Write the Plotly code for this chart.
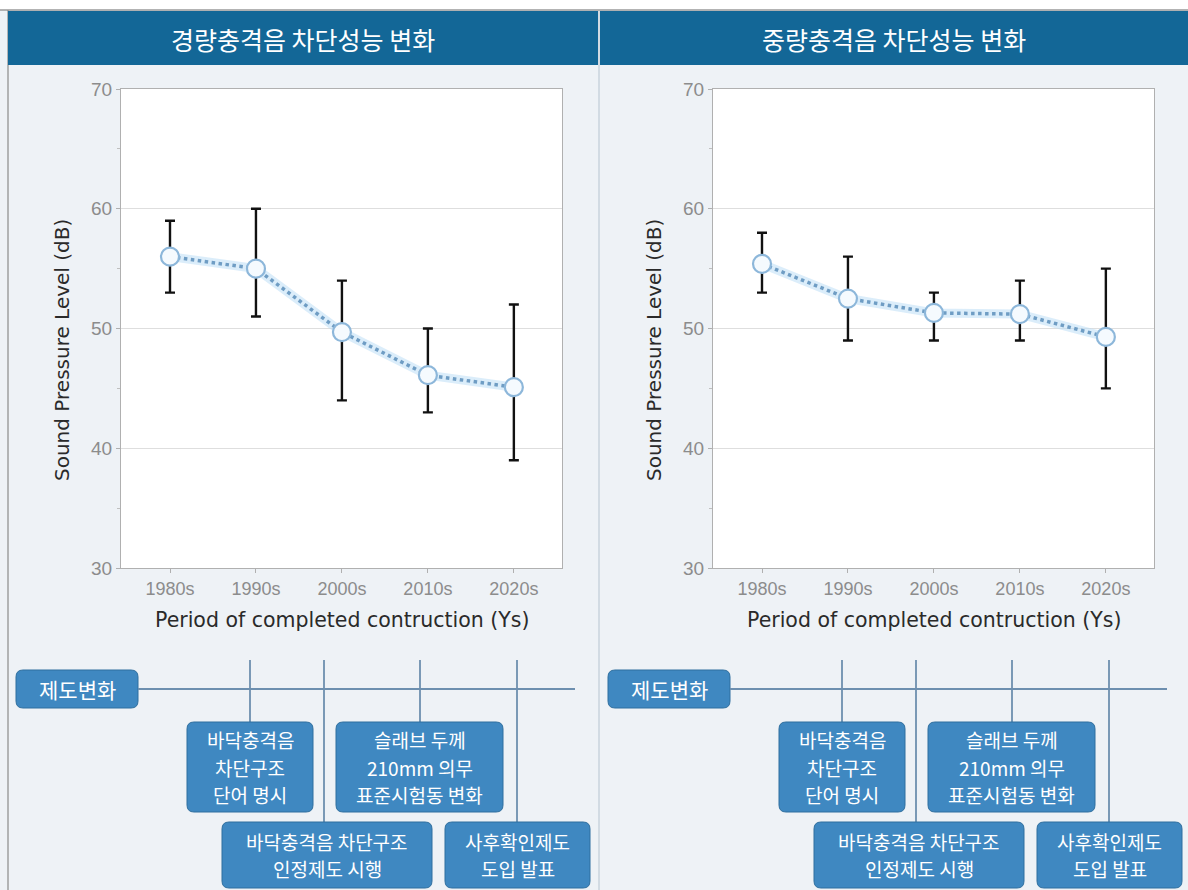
import plotly.graph_objects as go

# ---------------- data ----------------
categories = ["1980s", "1990s", "2000s", "2010s", "2020s"]
light_mean = [56.0, 55.0, 49.7, 46.1, 45.1]
light_upper = [59.0, 60.0, 54.0, 50.0, 52.0]
light_lower = [53.0, 51.0, 44.0, 43.0, 39.0]
heavy_mean = [55.4, 52.5, 51.3, 51.2, 49.3]
heavy_upper = [58.0, 56.0, 53.0, 54.0, 55.0]
heavy_lower = [53.0, 49.0, 49.0, 49.0, 45.0]
y_ticks = [30, 40, 50, 60, 70]
panel_titles = ["경량충격음 차단성능 변화", "중량충격음 차단성능 변화"]
y_title = "Sound Pressure Level (dB)"
x_title = "Period of completed contruction (Ys)"
timeline_label = "제도변화"
box_texts = [
    ["바닥충격음", "차단구조", "단어 명시"],
    ["슬래브 두께", "210mm 의무", "표준시험동 변화"],
    ["바닥충격음 차단구조", "인정제도 시행"],
    ["사후확인제도", "도입 발표"],
]

W, H = 1188, 890
KR = "Noto Sans CJK KR"


def px(x):
    return x / W


def py(y):
    return 1 - y / H


def rrect_path(x0, y0, x1, y1, r):
    X0, X1 = px(x0), px(x1)
    Y0, Y1 = py(y0), py(y1)  # Y0 top (bigger), Y1 bottom
    rx, ry = r / W, r / H
    return (f"M {X0+rx},{Y0} L {X1-rx},{Y0} Q {X1},{Y0} {X1},{Y0-ry} "
            f"L {X1},{Y1+ry} Q {X1},{Y1} {X1-rx},{Y1} L {X0+rx},{Y1} "
            f"Q {X0},{Y1} {X0},{Y1+ry} L {X0},{Y0-ry} Q {X0},{Y0} {X0+rx},{Y0} Z")


fig = go.Figure()

series = [(light_mean, light_upper, light_lower), (heavy_mean, heavy_upper, heavy_lower)]
for i, (m, u, l) in enumerate(series):
    xa = "x" if i == 0 else "x2"
    ya = "y" if i == 0 else "y2"
    # glow
    fig.add_trace(go.Scatter(x=categories, y=m, xaxis=xa, yaxis=ya, mode="lines",
                             line=dict(color="rgba(190,222,245,0.55)", width=9),
                             hoverinfo="skip", showlegend=False))
    fig.add_trace(go.Scatter(
        x=categories, y=m, xaxis=xa, yaxis=ya, mode="lines+markers",
        line=dict(color="#6F9DC4", width=3.5, dash="dot"),
        marker=dict(size=18, color="#F5FAFE", line=dict(color="#8DB7DA", width=2.2)),
        error_y=dict(type="data", symmetric=False,
                     array=[a - b for a, b in zip(u, m)],
                     arrayminus=[b - c for b, c in zip(m, l)],
                     color="#111111", thickness=2.4, width=5),
        showlegend=False))

shapes = []
annotations = []

# top white strip + frame lines
shapes.append(dict(type="rect", xref="paper", yref="paper", x0=0, x1=1, y0=py(10), y1=1,
                   fillcolor="white", line=dict(width=0), layer="below"))
shapes.append(dict(type="line", xref="paper", yref="paper", x0=0, x1=1, y0=py(10), y1=py(10),
                   line=dict(color="#9a9a9a", width=1.5)))
shapes.append(dict(type="line", xref="paper", yref="paper", x0=px(8), x1=px(8), y0=0, y1=py(10),
                   line=dict(color="#8a8a8a", width=1.2)))

# headers
headers = [(8, 598), (600, 1188)]
for (hx0, hx1), t in zip(headers, panel_titles):
    shapes.append(dict(type="rect", xref="paper", yref="paper", x0=px(hx0), x1=px(hx1),
                       y0=py(65), y1=py(11), fillcolor="#136797", line=dict(width=0)))
    annotations.append(dict(xref="paper", yref="paper", x=px((hx0 + hx1) / 2), y=py(39),
                            text=t, showarrow=False, xanchor="center", yanchor="middle",
                            font=dict(family=KR, size=25, color="white")))
shapes.append(dict(type="line", xref="paper", yref="paper", x0=px(599), x1=px(599), y0=0, y1=py(11),
                   line=dict(color="#c8d3dc", width=1.5)))

# axes titles + timeline
LINE_GAP = 27.6
for i in range(2):
    off = 592 * i
    annotations.append(dict(xref="paper", yref="paper", x=px(62 + off), y=py(350),
                            text=y_title, textangle=-90, showarrow=False,
                            xanchor="center", yanchor="middle",
                            font=dict(family="DejaVu Sans", size=20, color="#2a2a2a")))
    annotations.append(dict(xref="paper", yref="paper", x=px(342 + off), y=py(620),
                            text=x_title, showarrow=False, xanchor="center", yanchor="middle",
                            font=dict(family="DejaVu Sans", size=20.5, color="#2a2a2a")))

    box_col = "#3F88C1"
    shapes.append(dict(type="path", xref="paper", yref="paper",
                       path=rrect_path(16 + off, 670, 138 + off, 708, 7),
                       fillcolor=box_col, line=dict(color="#2f6f9f", width=1)))
    annotations.append(dict(xref="paper", yref="paper", x=px(77 + off), y=py(689),
                            text=timeline_label, showarrow=False,
                            xanchor="center", yanchor="middle",
                            font=dict(family=KR, size=21, color="white")))
    shapes.append(dict(type="line", xref="paper", yref="paper", x0=px(138 + off), x1=px(575 + off),
                       y0=py(689), y1=py(689), line=dict(color="#6d8faf", width=2)))
    for vx, vy1 in [(250, 722), (324, 822), (420, 722), (517, 822)]:
        shapes.append(dict(type="line", xref="paper", yref="paper", x0=px(vx + off), x1=px(vx + off),
                           y0=py(660), y1=py(vy1), line=dict(color="#6d8faf", width=1.8)))
    boxes = [(187, 722, 313, 812), (336, 722, 503, 812), (222, 822, 432, 888), (445, 822, 590, 888)]
    for (bx0, by0, bx1, by1), lines in zip(boxes, box_texts):
        bx1c = min(bx1 + off, 1187)
        shapes.append(dict(type="path", xref="paper", yref="paper",
                           path=rrect_path(bx0 + off, by0, bx1c, by1, 7),
                           fillcolor=box_col, line=dict(color="#2f6f9f", width=1)))
        cy = (by0 + by1) / 2
        n = len(lines)
        for k, ln in enumerate(lines):
            ly = cy + (k - (n - 1) / 2) * LINE_GAP
            annotations.append(dict(xref="paper", yref="paper", x=px((bx0 + off + bx1c) / 2),
                                    y=py(ly), text=ln, showarrow=False,
                                    xanchor="center", yanchor="middle", borderpad=0,
                                    font=dict(family=KR, size=19, color="white")))

xaxis_common = dict(type="category", range=[-0.57, 4.56], showgrid=False, zeroline=False,
                    showline=True, linecolor="#b0b0b0", linewidth=1.2, mirror=True,
                    ticks="outside", ticklen=4, tickcolor="#b0b0b0", automargin=False,
                    tickfont=dict(family="Liberation Sans", size=18, color="#8c8c8c"),
                    fixedrange=True)
yaxis_common = dict(range=[30, 70], tickvals=y_ticks, showgrid=True, gridcolor="#dedede", gridwidth=1.2,
                    zeroline=False, showline=True, linecolor="#b0b0b0", linewidth=1.2, mirror=True,
                    ticks="outside", ticklen=4, tickcolor="#b0b0b0", automargin=False,
                    minor=dict(dtick=5, ticks="outside", ticklen=3, tickcolor="#c0c0c0", showgrid=False),
                    tickfont=dict(family="Liberation Sans", size=19, color="#8c8c8c"),
                    fixedrange=True)

fig.update_layout(
    width=W, height=H, margin=dict(l=0, r=0, t=0, b=0, pad=0, autoexpand=False),
    paper_bgcolor="#EEF2F6", plot_bgcolor="white",
    xaxis=dict(xaxis_common, domain=[px(121), px(562)], anchor="y"),
    yaxis=dict(yaxis_common, domain=[py(568), py(89)], anchor="x"),
    xaxis2=dict(xaxis_common, domain=[px(713), px(1154)], anchor="y2"),
    yaxis2=dict(yaxis_common, domain=[py(568), py(89)], anchor="x2"),
    shapes=shapes, annotations=annotations, showlegend=False,
)

fig.write_html("out.html")
